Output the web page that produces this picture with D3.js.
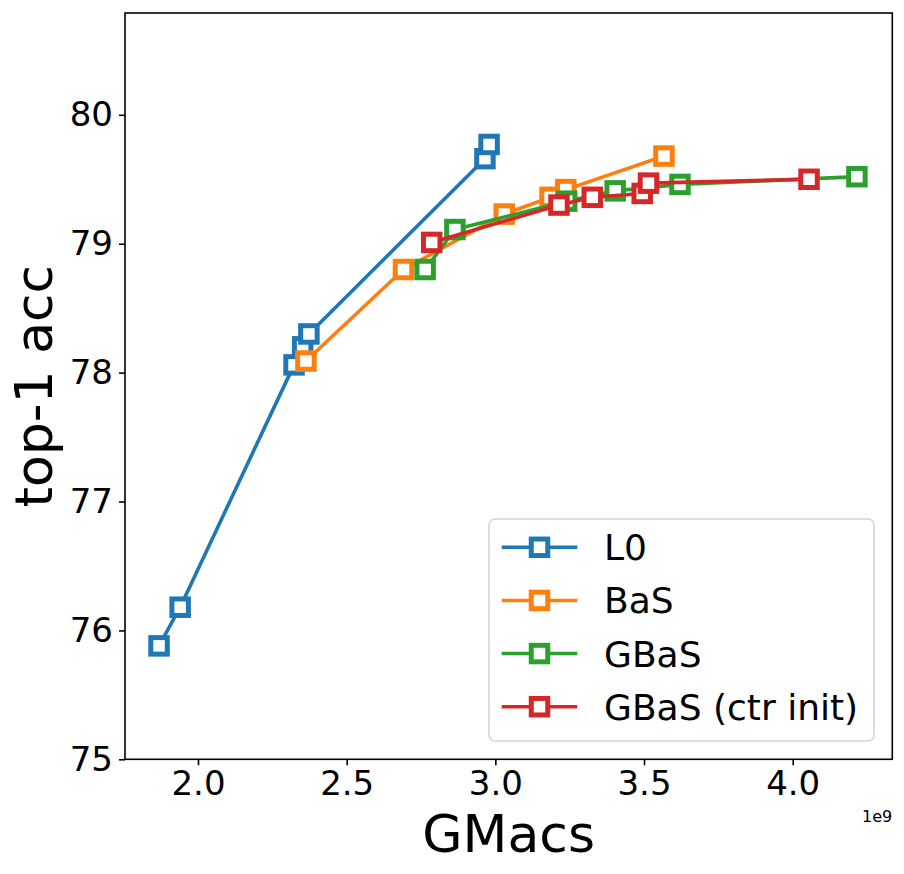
<!DOCTYPE html>
<html>
<head>
<meta charset="utf-8">
<script src="https://cdn.jsdelivr.net/npm/d3@7"></script>
<style>
    body { margin: 0; background: #fff; }
    svg { display: block; font-family: "DejaVu Sans", sans-serif; }
</style>
</head>
<body>
<div id="chart"></div>
<script>
// values (GMacs in units of 1e9)
const l0Macs = [1.869, 1.940, 2.323, 2.352, 2.373, 2.965, 2.979];
const l0Acc = [75.88, 76.18, 78.06, 78.20, 78.30, 79.66, 79.77];

const basMacs = [2.363, 2.691, 3.030, 3.184, 3.237, 3.567];
const basAcc = [78.09, 78.80, 79.23, 79.36, 79.42, 79.68];

const gbasMacs = [2.764, 2.864, 3.240, 3.403, 3.621, 4.216];
const gbasAcc = [78.80, 79.11, 79.33, 79.41, 79.46, 79.52];

const ctrMacs = [2.786, 3.214, 3.326, 3.494, 3.515, 4.055];
const ctrAcc = [79.01, 79.30, 79.36, 79.39, 79.47, 79.50];

const seriesNames = ['L0', 'BaS', 'GBaS', 'GBaS (ctr init)'];
const seriesColors = ['#1f77b4', '#ff7f0e', '#2ca02c', '#d62728'];
const xTicks = [2.0, 2.5, 3.0, 3.5, 4.0];
const yTicks = [75, 76, 77, 78, 79, 80];

const series = [
    { macs: l0Macs, acc: l0Acc },
    { macs: basMacs, acc: basAcc },
    { macs: gbasMacs, acc: gbasAcc },
    { macs: ctrMacs, acc: ctrAcc }
].map((s, i) => ({
    name: seriesNames[i],
    color: seriesColors[i],
    points: s.macs.map((m, j) => ({ x: m, y: s.acc[j] }))
}));

const width = 904, height = 874;
const margin = { left: 125, right: 904 - 892.3, top: 13, bottom: 874 - 759.3 };

const svg = d3.select('#chart')
    .append('svg')
    .attr('width', width)
    .attr('height', height);

const x = d3.scaleLinear()
    .domain([1.7545, 4.335])
    .range([margin.left, width - margin.right]);

const y = d3.scaleLinear()
    .domain([75, 80.79])
    .range([height - margin.bottom, margin.top]);

const tickFont = 34;

// axes
const xAxis = svg.append('g')
    .attr('transform', `translate(0,${height - margin.bottom})`)
    .call(d3.axisBottom(x).tickValues(xTicks).tickFormat(d3.format('.1f')).tickSize(6).tickPadding(6));

const yAxis = svg.append('g')
    .attr('transform', `translate(${margin.left},0)`)
    .call(d3.axisLeft(y).tickValues(yTicks).tickFormat(d3.format('d')).tickSize(6).tickPadding(6));

[xAxis, yAxis].forEach(ax => {
    ax.select('.domain').remove();
    ax.selectAll('.tick line').attr('stroke', '#000').attr('stroke-width', 1.6);
    ax.selectAll('.tick text')
        .attr('fill', '#000')
        .style('font-size', tickFont + 'px')
        .style('font-family', '"DejaVu Sans", sans-serif');
});

// plot lines + markers, one series at a time
const line = d3.line()
    .x(d => x(d.x))
    .y(d => y(d.y));

const markerSize = 16.5;

series.forEach(s => {
    const g = svg.append('g').attr('class', 'series');
    g.append('path')
        .datum(s.points)
        .attr('d', line)
        .attr('fill', 'none')
        .attr('stroke', s.color)
        .attr('stroke-width', 3.6)
        .attr('stroke-linejoin', 'round')
        .attr('stroke-linecap', 'square');
    g.selectAll('rect')
        .data(s.points)
        .join('rect')
        .attr('x', d => x(d.x) - markerSize / 2)
        .attr('y', d => y(d.y) - markerSize / 2)
        .attr('width', markerSize)
        .attr('height', markerSize)
        .attr('fill', '#fff')
        .attr('stroke', s.color)
        .attr('stroke-width', 5);
});

// frame
svg.append('rect')
    .attr('x', margin.left)
    .attr('y', margin.top)
    .attr('width', width - margin.left - margin.right)
    .attr('height', height - margin.top - margin.bottom)
    .attr('fill', 'none')
    .attr('stroke', '#000')
    .attr('stroke-width', 1.6);

// axis labels
svg.append('text')
    .attr('x', (margin.left + width - margin.right) / 2)
    .attr('y', 851.5)
    .attr('text-anchor', 'middle')
    .style('font-size', '52px')
    .text('GMacs');

svg.append('text')
    .attr('transform', `translate(52,${(margin.top + height - margin.bottom) / 2}) rotate(-90)`)
    .attr('text-anchor', 'middle')
    .style('font-size', '52px')
    .text('top-1 acc');

svg.append('text')
    .attr('x', width - margin.right)
    .attr('y', 822)
    .attr('text-anchor', 'end')
    .style('font-size', '16px')
    .text('1e9');

// legend
const legend = svg.append('g').attr('class', 'legend');
legend.append('rect')
    .attr('x', 489)
    .attr('y', 519)
    .attr('width', 385)
    .attr('height', 222)
    .attr('rx', 6)
    .attr('fill', '#fff')
    .attr('fill-opacity', 0.8)
    .attr('stroke', '#d6d6d6')
    .attr('stroke-width', 1.6);

const rowY = d3.scalePoint()
    .domain(seriesNames)
    .range([547.3, 706.7]);

series.forEach(s => {
    const cy = rowY(s.name);
    legend.append('line')
        .attr('x1', 501.7)
        .attr('x2', 577.3)
        .attr('y1', cy)
        .attr('y2', cy)
        .attr('stroke', s.color)
        .attr('stroke-width', 3.6);
    legend.append('rect')
        .attr('x', 539.5 - markerSize / 2)
        .attr('y', cy - markerSize / 2)
        .attr('width', markerSize)
        .attr('height', markerSize)
        .attr('fill', '#fff')
        .attr('stroke', s.color)
        .attr('stroke-width', 5);
    legend.append('text')
        .attr('x', 604)
        .attr('y', cy)
        .attr('dy', '0.36em')
        .style('font-size', '36px')
        .text(s.name);
});
</script>
</body>
</html>
